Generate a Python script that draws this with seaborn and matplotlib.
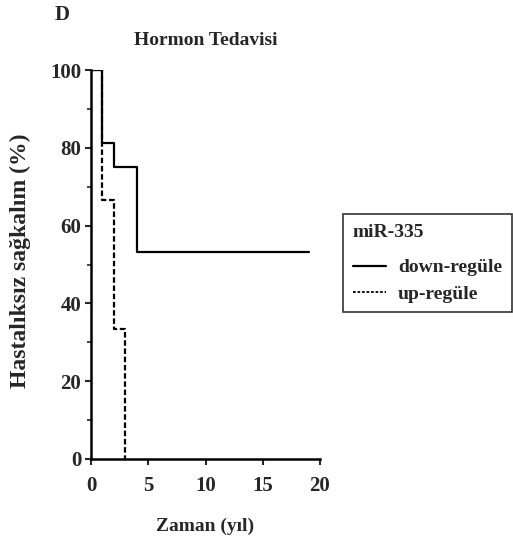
import matplotlib
matplotlib.use("Agg")
import matplotlib.pyplot as plt
import seaborn as sns
import pandas as pd
from matplotlib.ticker import MultipleLocator
from matplotlib.lines import Line2D

sns.set_theme(style="ticks")
plt.rcParams['font.family'] = ['Liberation Serif', 'DejaVu Serif']
plt.rcParams['font.weight'] = 'bold'

# Data (Kaplan-Meier step curves)
down_time = [0, 1, 2, 4, 19]
down_surv = [100, 81.25, 75, 53.3, 53.3]
up_time = [0, 1, 2, 3]
up_surv = [100, 66.7, 33.3, 0]
groups = ["down-regüle", "up-regüle"]

df = pd.concat([
    pd.DataFrame({"t": down_time, "s": down_surv, "g": groups[0]}),
    pd.DataFrame({"t": up_time, "s": up_surv, "g": groups[1]}),
])

fig = plt.figure(figsize=(5.13, 5.46), dpi=100)
ax = fig.add_axes([91/513, 1-459/546, 229/513, 389/546])

sns.lineplot(data=df, x="t", y="s", hue="g", style="g",
             palette={groups[0]: "black", groups[1]: "black"},
             dashes={groups[0]: "", groups[1]: (2.5, 1.2)},
             drawstyle="steps-post", linewidth=1.6, ax=ax, legend=False,
             estimator=None, sort=False)

ax.set_xlim(0, 20)
ax.set_ylim(0, 100)
ax.set_xticks([0, 5, 10, 15, 20])
ax.set_yticks([0, 20, 40, 60, 80, 100])
ax.yaxis.set_minor_locator(MultipleLocator(10))
ax.tick_params(axis='both', which='major', direction='out', length=4, width=1.5, labelsize=15, pad=3)
ax.tick_params(axis='x', which='major', pad=8)
ax.tick_params(axis='y', which='minor', direction='out', length=3, width=1.2)
for lab in ax.get_xticklabels() + ax.get_yticklabels():
    lab.set_fontweight('bold')
sns.despine(ax=ax)
for sp in ['left', 'bottom']:
    ax.spines[sp].set_linewidth(1.8)
    ax.spines[sp].set_color('black')
ax.spines['left'].set_bounds(0, 100)
ax.spines['bottom'].set_bounds(0, 20)

ax.set_xlabel("Zaman (yıl)", fontsize=14, fontweight='bold', labelpad=16)
ax.set_ylabel("")
fig.text(20/513, 1-261/546, "Hastalıksız sağkalım (%)", fontsize=17, fontweight='bold',
         rotation=90, ha='center', va='center')
ax.set_title("Hormon Tedavisi", fontsize=14, fontweight='bold', pad=18)
fig.text(62/513, 1-15/546, "D", fontsize=15, fontweight='bold', ha='center', va='center')

handles = [Line2D([], [], color='black', lw=1.6),
           Line2D([], [], color='black', lw=1.3, linestyle=(0, (1.5, 1)))]
leg = fig.legend(handles, groups, title="miR-335", loc='upper left',
                 bbox_to_anchor=(343/513, 1-214/546), borderaxespad=0, frameon=True,
                 fontsize=14, title_fontsize=14, handlelength=1.7,
                 borderpad=0.5, labelspacing=0.45, handletextpad=0.62,
                 fancybox=False, edgecolor='black')
leg.get_frame().set_linewidth(1.2)
leg._legend_box.align = "left"
leg._legend_box.sep = 13
for t in leg.get_texts():
    t.set_fontweight('bold')
leg.get_title().set_fontweight('bold')

fig.savefig("out.png", dpi=100)
